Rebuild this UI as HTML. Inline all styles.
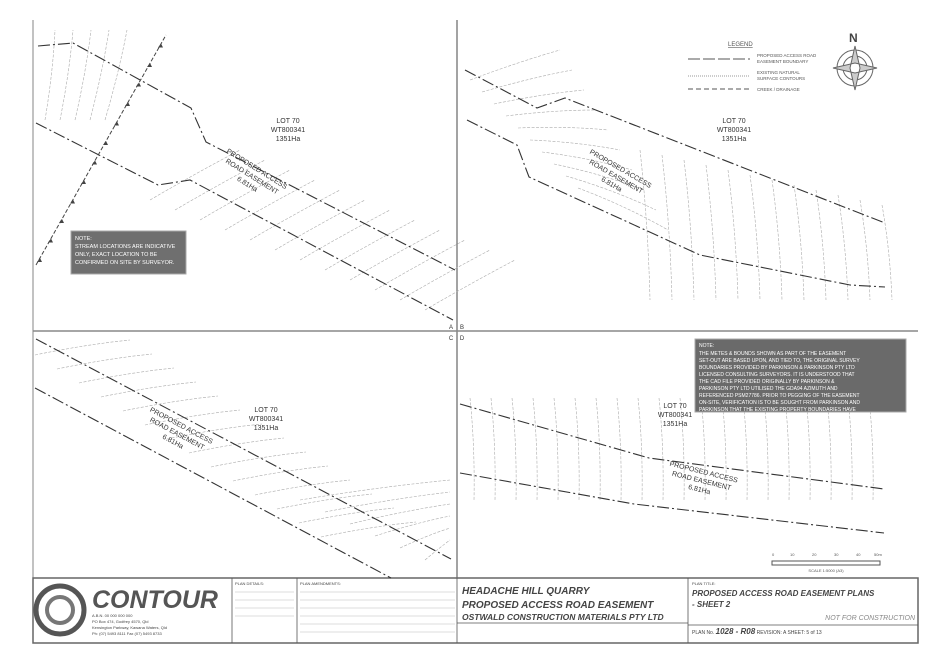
<!DOCTYPE html>
<html><head><style>
body{margin:0;background:#fff;width:928px;height:656px;overflow:hidden;font-family:"Liberation Sans",sans-serif}
svg{position:absolute;left:0;top:0}
.t{font-family:"Liberation Sans",sans-serif}
</style></head><body>
<svg width="928" height="656" viewBox="0 0 928 656">
<g stroke="#666" fill="none">
<line x1="33" y1="20" x2="33" y2="643" stroke-width="0.8"/>
<line x1="457" y1="20" x2="457" y2="578" stroke-width="1.2"/>
<line x1="33" y1="331" x2="918" y2="331" stroke-width="1.5" stroke="#888"/>
<rect x="33" y="578" width="885" height="65" stroke-width="1.5"/>
</g>
<g id="cont" stroke="#aaa" stroke-width="0.6" fill="none" stroke-dasharray="3,1.5"></g>
<!-- roads -->
<g stroke="#333" stroke-width="1.1" fill="none" stroke-dasharray="12,3,2,3">
<path d="M38 46 L73 43 L191 108 L206 142 L455 270"/>
<path d="M36 123 L158 185 L190 180 L453 320"/>
<path d="M465 70 L537 108 L565 98 L885 223"/>
<path d="M467 120 L517 145 L529 177 L700 255 L850 285 L885 287"/>
<path d="M36 339 L451 559"/>
<path d="M35 388 L391 578"/>
<path d="M460 404 L649 458 L884 489"/>
<path d="M460 473 L634 504 L884 533"/>
</g>
<path d="M36 265 L166 35" stroke="#444" stroke-width="1" stroke-dasharray="4,2" fill="none"/>
<g fill="#444" id="arrows"></g>
<!-- labels -->
<g class="t" font-size="7" fill="#333" text-anchor="middle">
<text x="288" y="123">LOT 70</text><text x="288" y="132">WT800341</text><text x="288" y="141">1351Ha</text>
<text x="734" y="123">LOT 70</text><text x="734" y="132">WT800341</text><text x="734" y="141">1351Ha</text>
<text x="266" y="412">LOT 70</text><text x="266" y="421">WT800341</text><text x="266" y="430">1351Ha</text>
<text x="675" y="408">LOT 70</text><text x="675" y="417">WT800341</text><text x="675" y="426">1351Ha</text>
<g transform="rotate(32 253 175)"><text x="253" y="170">PROPOSED ACCESS</text><text x="253" y="179">ROAD EASEMENT</text><text x="253" y="188">6.81Ha</text></g>
<g transform="rotate(30 617 175)"><text x="617" y="170">PROPOSED ACCESS</text><text x="617" y="179">ROAD EASEMENT</text><text x="617" y="188">6.81Ha</text></g>
<g transform="rotate(28 178 432)"><text x="178" y="427">PROPOSED ACCESS</text><text x="178" y="436">ROAD EASEMENT</text><text x="178" y="445">6.81Ha</text></g>
<g transform="rotate(14 702 479)"><text x="702" y="474">PROPOSED ACCESS</text><text x="702" y="483">ROAD EASEMENT</text><text x="702" y="492">6.81Ha</text></g>
<text x="451" y="329" font-size="6">A</text><text x="462" y="329" font-size="6">B</text>
<text x="451" y="340" font-size="6">C</text><text x="462" y="340" font-size="6">D</text>
</g>
<!-- legend -->
<g class="t" font-size="4.5" fill="#555">
<text x="728" y="46" font-size="6" text-decoration="underline">LEGEND</text>
<line x1="688" y1="59" x2="750" y2="59" stroke="#555" stroke-dasharray="12,3"/><text x="757" y="57">PROPOSED ACCESS ROAD</text><text x="757" y="63">EASEMENT BOUNDARY</text>
<line x1="688" y1="76" x2="750" y2="76" stroke="#999" stroke-dasharray="1,1"/><text x="757" y="74">EXISTING NATURAL</text><text x="757" y="80">SURFACE CONTOURS</text>
<line x1="688" y1="89" x2="750" y2="89" stroke="#555" stroke-dasharray="5,3"/><text x="757" y="91">CREEK / DRAINAGE</text>
</g>
<g transform="translate(855 68)" stroke="#666" fill="none">
<circle r="18"/><circle r="12"/><path d="M0 -22 L5 0 L0 22 L-5 0Z M-22 0 L0 5 L22 0 L0 -5Z" fill="#ccc"/>
<text x="-6" y="-26" font-size="12" fill="#444" stroke="none" font-weight="bold">N</text>
</g>
<!-- notes -->
<rect x="71" y="231" width="115" height="43" fill="#6f6f6f" stroke="#aaa"/>
<g class="t" font-size="5.5" fill="#fff"><text x="75" y="240">NOTE:</text><text x="75" y="248">STREAM LOCATIONS ARE INDICATIVE</text><text x="75" y="256">ONLY, EXACT LOCATION TO BE</text><text x="75" y="264">CONFIRMED ON SITE BY SURVEYOR.</text></g>
<rect x="695" y="339" width="211" height="73" fill="#6a6a6a" stroke="#aaa"/>
<g class="t" font-size="5" fill="#fff">
<text x="699" y="347">NOTE:</text>
<text x="699" y="355">THE METES &amp; BOUNDS SHOWN AS PART OF THE EASEMENT</text>
<text x="699" y="362">SET-OUT ARE BASED UPON, AND TIED TO, THE ORIGINAL SURVEY</text>
<text x="699" y="369">BOUNDARIES PROVIDED BY PARKINSON &amp; PARKINSON PTY LTD</text>
<text x="699" y="376">LICENSED CONSULTING SURVEYORS. IT IS UNDERSTOOD THAT</text>
<text x="699" y="383">THE CAD FILE PROVIDED ORIGINALLY BY PARKINSON &amp;</text>
<text x="699" y="390">PARKINSON PTY LTD UTILISED THE GDA94 AZIMUTH AND</text>
<text x="699" y="397">REFERENCED PSM27786. PRIOR TO PEGGING OF THE EASEMENT</text>
<text x="699" y="404">ON-SITE, VERIFICATION IS TO BE SOUGHT FROM PARKINSON AND</text>
<text x="699" y="411">PARKINSON THAT THE EXISTING PROPERTY BOUNDARIES HAVE</text>
</g>
<!-- scale -->
<g stroke="#555" fill="none"><rect x="772" y="561" width="108" height="4"/></g>
<g class="t" font-size="4" fill="#555"><text x="772" y="556">0</text><text x="790" y="556">10</text><text x="812" y="556">20</text><text x="834" y="556">30</text><text x="856" y="556">40</text><text x="874" y="556">50m</text>
<text x="826" y="572" text-anchor="middle">SCALE 1:5000 (A3)</text></g>
<!-- title block -->
<g stroke="#555" fill="none" stroke-width="0.8">
<line x1="232" y1="578" x2="232" y2="643"/><line x1="297" y1="578" x2="297" y2="643"/>
<line x1="457" y1="578" x2="457" y2="643"/><line x1="688" y1="578" x2="688" y2="643"/>
<line x1="457" y1="623" x2="688" y2="623"/><line x1="688" y1="625" x2="918" y2="625"/>
<circle cx="60" cy="610" r="24" stroke-width="5" stroke="#555"/><circle cx="60" cy="610" r="13" stroke-width="4" stroke="#777"/>
</g>
<g class="t" fill="#444">
<text x="92" y="608" font-size="25" font-weight="bold" font-style="italic" fill="#555">CONTOUR</text>
<text x="92" y="617" font-size="4">A.B.N. 00 000 000 000</text><text x="92" y="623" font-size="4">PO Box 474, Godfrey 4570, Qld</text>
<text x="92" y="629" font-size="4">Kensington Parkway, Kawana Waters, Qld</text><text x="92" y="635" font-size="4">Ph: (07) 5493 8111  Fax (07) 5493 8733</text>
<text x="235" y="585" font-size="4">PLAN DETAILS:</text><text x="300" y="585" font-size="4">PLAN AMENDMENTS:</text>
<text x="462" y="594" font-size="10" font-weight="bold" font-style="italic">HEADACHE HILL QUARRY</text>
<text x="462" y="608" font-size="10" font-weight="bold" font-style="italic">PROPOSED ACCESS ROAD EASEMENT</text>
<text x="462" y="620" font-size="8.5" font-weight="bold" font-style="italic">OSTWALD CONSTRUCTION MATERIALS PTY LTD</text>
<text x="692" y="585" font-size="4">PLAN TITLE:</text>
<text x="692" y="596" font-size="8" font-weight="bold" font-style="italic">PROPOSED ACCESS ROAD EASEMENT PLANS</text>
<text x="692" y="607" font-size="8" font-weight="bold" font-style="italic">- SHEET 2</text>
<text x="915" y="620" font-size="7" font-style="italic" fill="#888" text-anchor="end">NOT FOR CONSTRUCTION</text>
<text x="692" y="634" font-size="5">PLAN No.  <tspan font-size="8" font-weight="bold" font-style="italic">1028 - R08</tspan>   REVISION:   A          SHEET:  5 of 13</text>
</g>
<g stroke="#aaa" stroke-width="0.4">
<line x1="300" y1="592" x2="455" y2="592"/><line x1="300" y1="600" x2="455" y2="600"/><line x1="300" y1="608" x2="455" y2="608"/><line x1="300" y1="616" x2="455" y2="616"/><line x1="300" y1="624" x2="455" y2="624"/><line x1="300" y1="632" x2="455" y2="632"/>
<line x1="235" y1="592" x2="294" y2="592"/><line x1="235" y1="600" x2="294" y2="600"/><line x1="235" y1="608" x2="294" y2="608"/><line x1="235" y1="616" x2="294" y2="616"/>
</g>
</svg>
<script>
var g=document.getElementById('cont'),s='';
function L(x1,y1,x2,y2){var mx=(x1+x2)/2+3,my=(y1+y2)/2-3;s+='<path d="M'+x1+' '+y1+' Q'+mx+' '+my+' '+x2+' '+y2+'"/>';}
// A: oblique contours up-right
for(var i=0;i<12;i++){L(150+i*25,200+i*10,240+i*25,150+i*10);}
for(var i=0;i<5;i++){L(45+i*15,120,55+i*18,30);}
// B: near vertical contours in right part, sloped in left
for(var i=0;i<10;i++){L(470+i*12,80+i*12,560+i*12,50+i*20);}
for(var i=0;i<12;i<12,i++){L(640+i*22,150+i*5,650+i*22,300);}
// C
for(var i=0;i<14;i++){L(35+i*22,355+i*14,130+i*22,340+i*14);}
for(var i=0;i<6;i++){L(300+i*25,500+i*12,450,480+i*12);}
// D vertical contours
for(var i=0;i<20;i++){var x=470+i*21;L(x,398,x+4,500);}
g.innerHTML=s;
var a='';for(var i=0;i<12;i++){var x=40+i*11,y=258-i*19.5;a+='<path d="M'+x+' '+y+' l-3 4 l5 0z"/>';}
document.getElementById('arrows').innerHTML=a;
</script>
</body></html>
